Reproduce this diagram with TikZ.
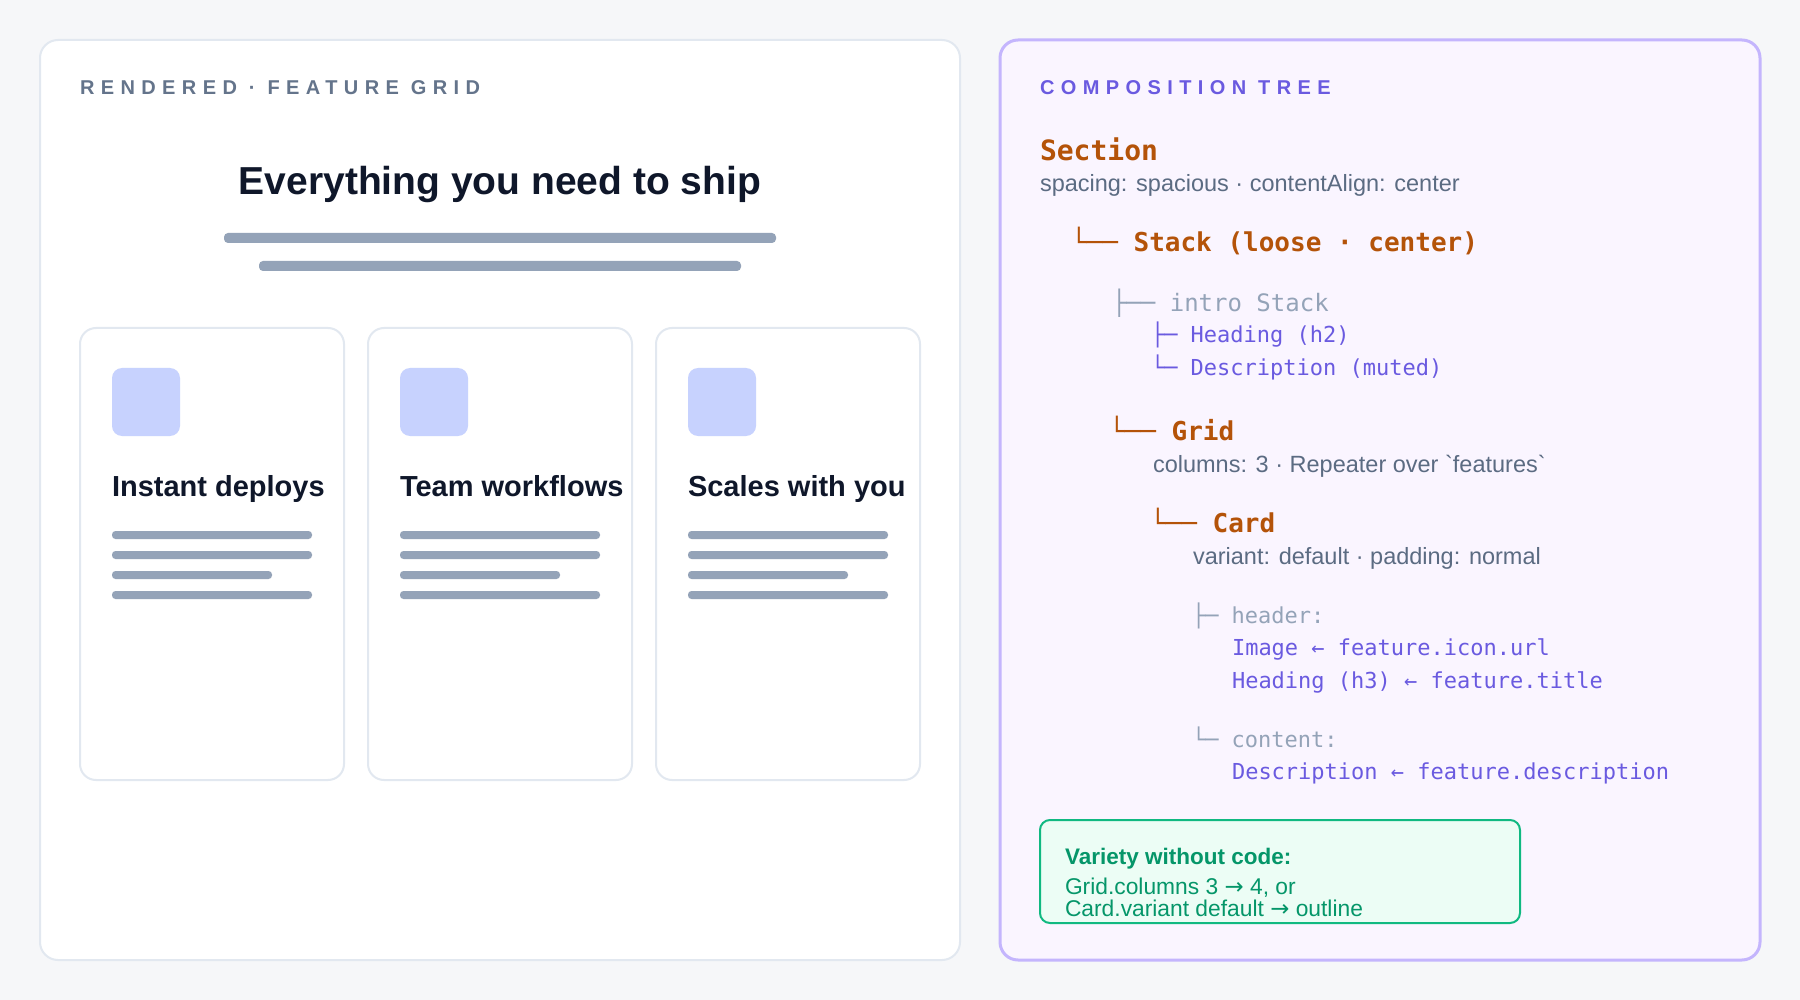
\documentclass[tikz,border=0pt]{standalone}
\usepackage{fontspec}
\setmainfont{Liberation Sans}[Ligatures=TeXOff]
\newfontfamily\monofont{DejaVu Sans Mono}
\newfontfamily\capsfont{Liberation Sans}[LetterSpace=32]
\newfontfamily\arrowfont{DejaVu Sans}
\definecolor{bgc}{HTML}{F6F7F9}
\definecolor{pborder}{HTML}{E2E8F0}
\definecolor{rfill}{HTML}{FAF5FF}
\definecolor{rborder}{HTML}{C4B5FD}
\definecolor{ink}{HTML}{0F172A}
\definecolor{lbl}{HTML}{64748B}
\definecolor{barc}{HTML}{94A3B8}
\definecolor{iconc}{HTML}{C7D2FE}
\definecolor{orng}{HTML}{B45309}
\definecolor{vio}{HTML}{6A5AE0}
\definecolor{slate}{HTML}{5B6B82}
\definecolor{treegray}{HTML}{94A3B8}
\definecolor{gtext}{HTML}{059669}
\definecolor{gborder}{HTML}{10B981}
\definecolor{gfill}{HTML}{ECFDF5}
\newcommand{\rarr}{{\arrowfont →}}
\tikzset{
  txt/.style={inner sep=0pt, outer sep=0pt, anchor=base west},
  caps/.style={txt, font=\capsfont\bfseries\fontsize{20}{23}\selectfont},
  monobold/.style={txt, font=\monofont\bfseries\fontsize{#1}{#1}\selectfont, text=orng},
  monoreg/.style={txt, font=\monofont\fontsize{#1}{#1}\selectfont},
  sansnote/.style={txt, font=\fontsize{23.5}{28}\selectfont, text=slate},
  greennote/.style={txt, font=\fontsize{22.8}{25}\selectfont, text=gtext},
  bar/.style={fill=barc, rounded corners=4pt},
  card/.style={draw=pborder, line width=2pt, fill=white, rounded corners=16pt},
}
\begin{document}
\begin{tikzpicture}[x=1pt,y=-1pt]
\useasboundingbox (0,0) rectangle (1800,1000);
\fill[bgc] (0,0) rectangle (1800,1000);

% ---------- left panel ----------
\draw[draw=pborder, line width=2pt, fill=white, rounded corners=18pt] (40,40) rectangle (960,960);
\node[caps, text=lbl] (lhdr) at (80,95) {RENDERED · FEATURE GRID};
\node[txt, anchor=base, font=\bfseries\fontsize{39}{45}\selectfont, text=ink] (heading) at (500,195) {Everything you need to ship};
\fill[bar] (224,233) rectangle (776,243);
\fill[bar] (259,261) rectangle (741,271);

\foreach \i/\t in {0/Instant deploys, 1/Team workflows, 2/Scales with you} {
  \pgfmathsetmacro{\xo}{80+288*\i}
  \draw[card] (\xo,328) rectangle ({\xo+264},780);
  \fill[iconc, rounded corners=10pt] ({\xo+32},368) rectangle ({\xo+100},436);
  \node[txt, font=\bfseries\fontsize{29}{33}\selectfont, text=ink] (title\i) at ({\xo+32},496) {\t};
  \fill[bar, rounded corners=3.5pt] ({\xo+32},531) rectangle ({\xo+232},539);
  \fill[bar, rounded corners=3.5pt] ({\xo+32},551) rectangle ({\xo+232},559);
  \fill[bar, rounded corners=3.5pt] ({\xo+32},571) rectangle ({\xo+192},579);
  \fill[bar, rounded corners=3.5pt] ({\xo+32},591) rectangle ({\xo+232},599);
}

% ---------- right panel ----------
\draw[draw=rborder, line width=3pt, fill=rfill, rounded corners=18pt] (1000,40) rectangle (1760,960);
\node[caps, text=vio] (rhdr) at (1040,95) {COMPOSITION TREE};

\node[monobold=28] (sec) at (1040,161) {Section};
\node[sansnote] (secp) at (1040,192) {spacing: spacious · contentAlign: center};

\node[monobold=26] (stk) at (1071,252) {└── Stack (loose · center)};
\node[monoreg=24, text=treegray] (intro) at (1112,312) {├── intro Stack};
\node[monoreg=22, text=vio] (h2) at (1151,343) {├─ Heading (h2)};
\node[monoreg=22, text=vio] (desc) at (1151,375) {└─ Description (muted)};

\node[monobold=26] (grid) at (1109,440) {└── Grid};
\node[sansnote] (gridp) at (1153,472) {columns: 3 · Repeater over `features`};

\node[monobold=26] (cardn) at (1150,532) {└── Card};
\node[sansnote] (cardp) at (1193,564) {variant: default · padding: normal};

\node[monoreg=22, text=treegray] (hdr) at (1192,623) {├─ header:};
\node[monoreg=22, text=vio] (img) at (1232,655) {Image ← feature.icon.url};
\node[monoreg=22, text=vio] (h3) at (1232,688) {Heading (h3) ← feature.title};
\node[monoreg=22, text=treegray] (cont) at (1192,747) {└─ content:};
\node[monoreg=22, text=vio] (dsc) at (1232,779) {Description ← feature.description};

% ---------- green note ----------
\draw[draw=gborder, line width=2pt, fill=gfill, rounded corners=10pt] (1040,820) rectangle (1520,923);
\node[txt, font=\bfseries\fontsize{22.5}{26}\selectfont, text=gtext] (vt) at (1065,864) {Variety without code:};
\node[greennote] (v1) at (1065,894) {Grid.columns 3 \rarr\ 4, or};
\node[greennote] (v2) at (1065,916) {Card.variant default \rarr\ outline};
\end{tikzpicture}
\end{document}
